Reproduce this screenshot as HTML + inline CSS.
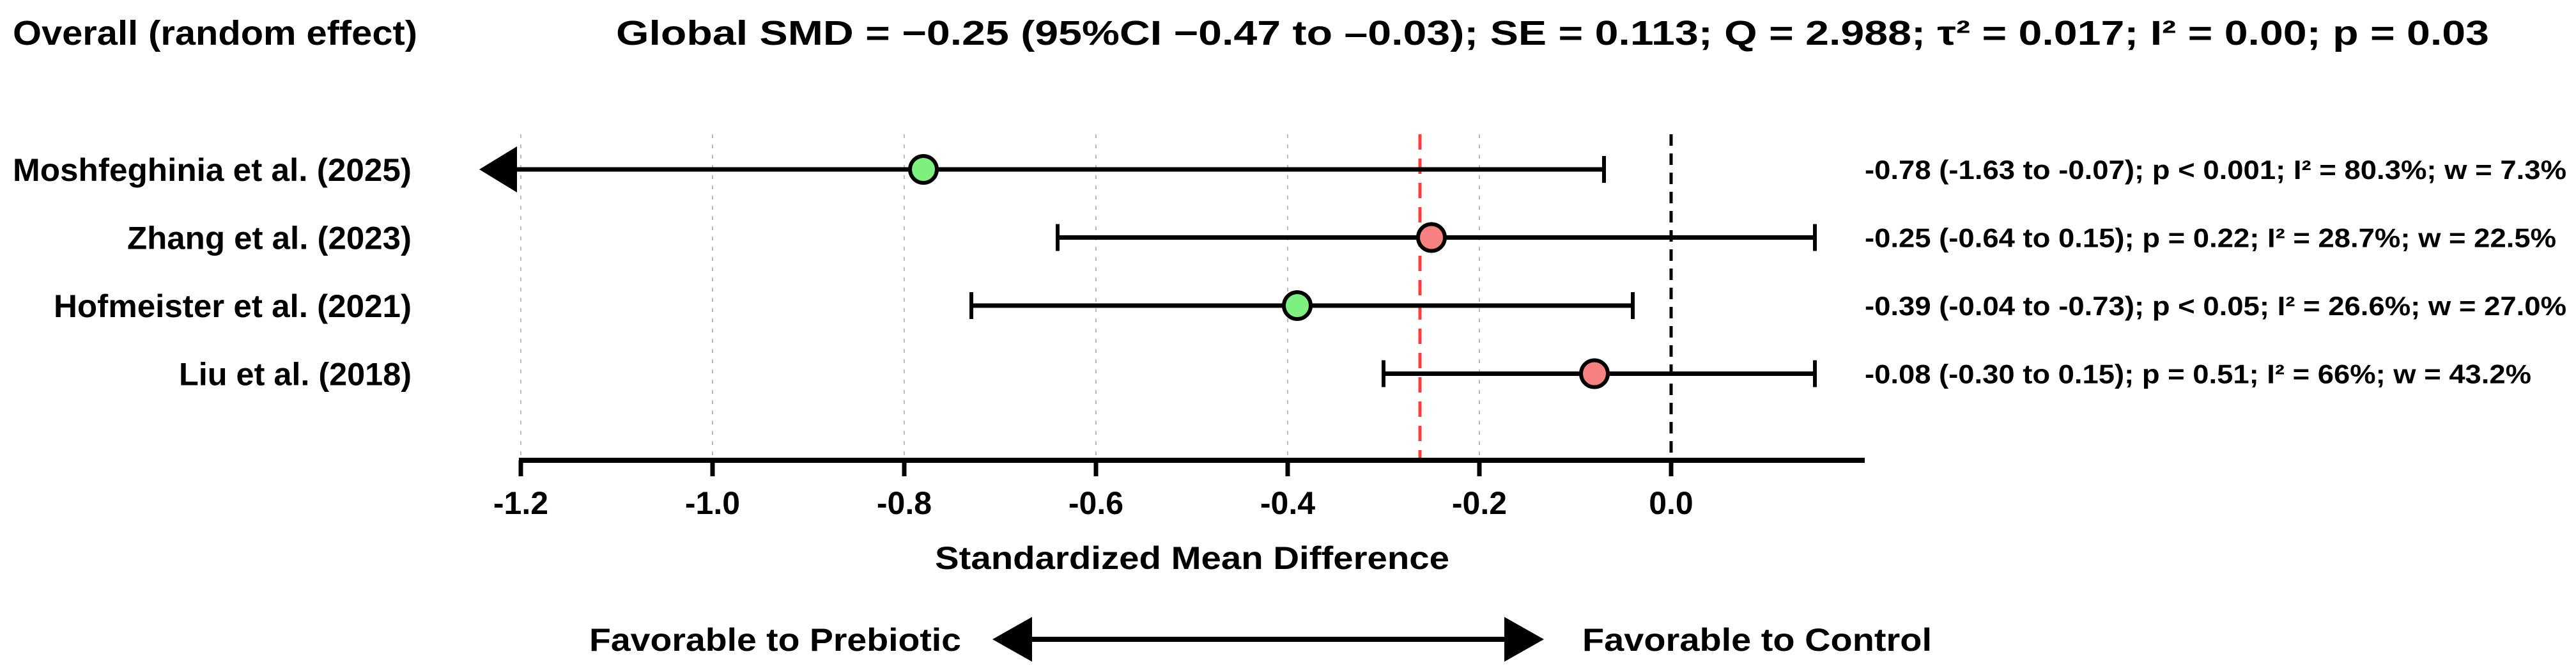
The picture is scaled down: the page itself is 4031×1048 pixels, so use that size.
<!DOCTYPE html>
<html><head><meta charset="utf-8"><style>
html,body{margin:0;padding:0;background:#fff}
svg{display:block}
text{font-family:"Liberation Sans",Arial,sans-serif;font-weight:bold;fill:#000}
</style></head><body>
<svg id="chart" width="4031" height="1048" viewBox="0 0 4031 1048" xmlns="http://www.w3.org/2000/svg">
<text x="20" y="70" font-size="54" textLength="633" lengthAdjust="spacingAndGlyphs">Overall (random effect)</text>
<text x="964" y="70" font-size="54" textLength="2931" lengthAdjust="spacingAndGlyphs">Global SMD = −0.25 (95%CI −0.47 to –0.03); SE = 0.113; Q = 2.988; τ² = 0.017;    I² = 0.00; p = 0.03</text>
<g id="grid"></g>
<g id="marks"></g>
<g id="axis"></g>
<text x="1463" y="890" font-size="50" textLength="805" lengthAdjust="spacingAndGlyphs">Standardized Mean Difference</text>
<text x="922" y="1018" font-size="50" textLength="582" lengthAdjust="spacingAndGlyphs">Favorable to Prebiotic</text>
<text x="2476" y="1018" font-size="50" textLength="547" lengthAdjust="spacingAndGlyphs">Favorable to Control</text>
<g>
<line x1="1600" y1="1000" x2="2370" y2="1000" stroke="#000" stroke-width="8"/>
<polygon points="1553,1000 1615,965 1615,1035" fill="#000"/>
<polygon points="2416,1000 2354,965 2354,1035" fill="#000"/>
</g>
</svg>
<script>
const studies = ["Moshfeghinia et al. (2025)", "Zhang et al. (2023)", "Hofmeister et al. (2021)", "Liu et al. (2018)"];
const smd = [-0.78, -0.25, -0.39, -0.08];
const lower = [-1.63, -0.64, -0.73, -0.30];
const upper = [-0.07, 0.15, -0.04, 0.15];
const significant = [true, false, true, false];
const statsText = ["-0.78 (-1.63 to -0.07); p < 0.001; I² = 80.3%; w = 7.3%", "-0.25 (-0.64 to 0.15); p = 0.22; I² = 28.7%; w = 22.5%", "-0.39 (-0.04 to -0.73); p < 0.05; I² = 26.6%; w = 27.0%", "-0.08 (-0.30 to 0.15); p = 0.51; I² = 66%; w = 43.2%"];
const pooled = -0.262;
const tickValues = [-1.2, -1.0, -0.8, -0.6, -0.4, -0.2, 0.0];
const tickLabels = ["-1.2", "-1.0", "-0.8", "-0.6", "-0.4", "-0.2", "0.0"];

const labelWidths = [624, 445, 560, 364];
const statsWidths = [1098, 1082, 1098, 1043];
const NS = "http://www.w3.org/2000/svg";
const xMin = -1.2, xMax = 0.202, px0 = 815, pxPerUnit = 1500;
function x(v){ return px0 + (Math.max(v, xMin) - xMin) * pxPerUnit; }
function y(i){ return 265 + i * 106.5; }
const axisY = 720;
function mk(tag, attrs, parent){ const e = document.createElementNS(NS, tag); for (const k in attrs) e.setAttribute(k, attrs[k]); parent.appendChild(e); return e; }
const grid = document.getElementById('grid'), marks = document.getElementById('marks'), axis = document.getElementById('axis'), svg = document.getElementById('chart');

tickValues.forEach((t, i) => {
  if (t !== 0) {
    const g = mk('line', {x1: x(t), x2: x(t), y1: 210, y2: axisY - 4, stroke: '#bbb', 'stroke-width': 2, 'stroke-dasharray': '6 10'}, grid);
    
    
  }
  const tk = mk('line', {x1: x(t), x2: x(t), y1: axisY, y2: 745, stroke: '#000', 'stroke-width': 7}, axis);
  
  
  const lb = mk('text', {x: x(t), y: 804, 'font-size': 50, 'text-anchor': 'middle'}, axis);
  lb.textContent = tickLabels[i];
  
  
});
const al = mk('line', {x1: x(xMin) - 3, x2: x(xMax), y1: axisY, y2: axisY, stroke: '#000', 'stroke-width': 8}, axis);



const zl = mk('line', {x1: x(0), x2: x(0), y1: 210, y2: axisY, stroke: '#000', 'stroke-width': 5, 'stroke-dasharray': '18 12'}, grid);


const pl = mk('line', {x1: x(pooled), x2: x(pooled), y1: 210, y2: axisY, stroke: '#ff3b3b', 'stroke-width': 5, 'stroke-dasharray': '24 14'}, grid);



studies.forEach((s, i) => {
  const yy = y(i);
  const lab = mk('text', {x: 644, y: yy + 18, 'font-size': 50, 'text-anchor': 'end', textLength: labelWidths[i], lengthAdjust: 'spacingAndGlyphs'}, svg);
  lab.textContent = s;
  
  
  const clipped = lower[i] < xMin;
  const lx = clipped ? x(xMin) - 6 : x(lower[i]);
  const ci = mk('line', {x1: lx, x2: x(upper[i]), y1: yy, y2: yy, stroke: '#000', 'stroke-width': 7}, marks);
  
  
  if (clipped) {
    const ar = mk('polygon', {points: `${x(xMin) - 65},${yy} ${x(xMin) - 6},${yy - 36} ${x(xMin) - 6},${yy + 36}`, fill: '#000'}, marks);
    
    
  } else {
    const lc = mk('line', {x1: lx, x2: lx, y1: yy - 21, y2: yy + 21, stroke: '#000', 'stroke-width': 6}, marks);
    
    
  }
  const uc = mk('line', {x1: x(upper[i]), x2: x(upper[i]), y1: yy - 21, y2: yy + 21, stroke: '#000', 'stroke-width': 6}, marks);
  
  
  const c = mk('circle', {cx: x(smd[i]), cy: yy, r: 21, fill: significant[i] ? '#7df07d' : '#f78080', stroke: '#000', 'stroke-width': 6}, marks);
  
  
  const st = mk('text', {x: 2918, y: yy + 15, 'font-size': 42, textLength: statsWidths[i], lengthAdjust: 'spacingAndGlyphs'}, svg);
  st.textContent = statsText[i];
  
  
});
</script>
</body></html>
